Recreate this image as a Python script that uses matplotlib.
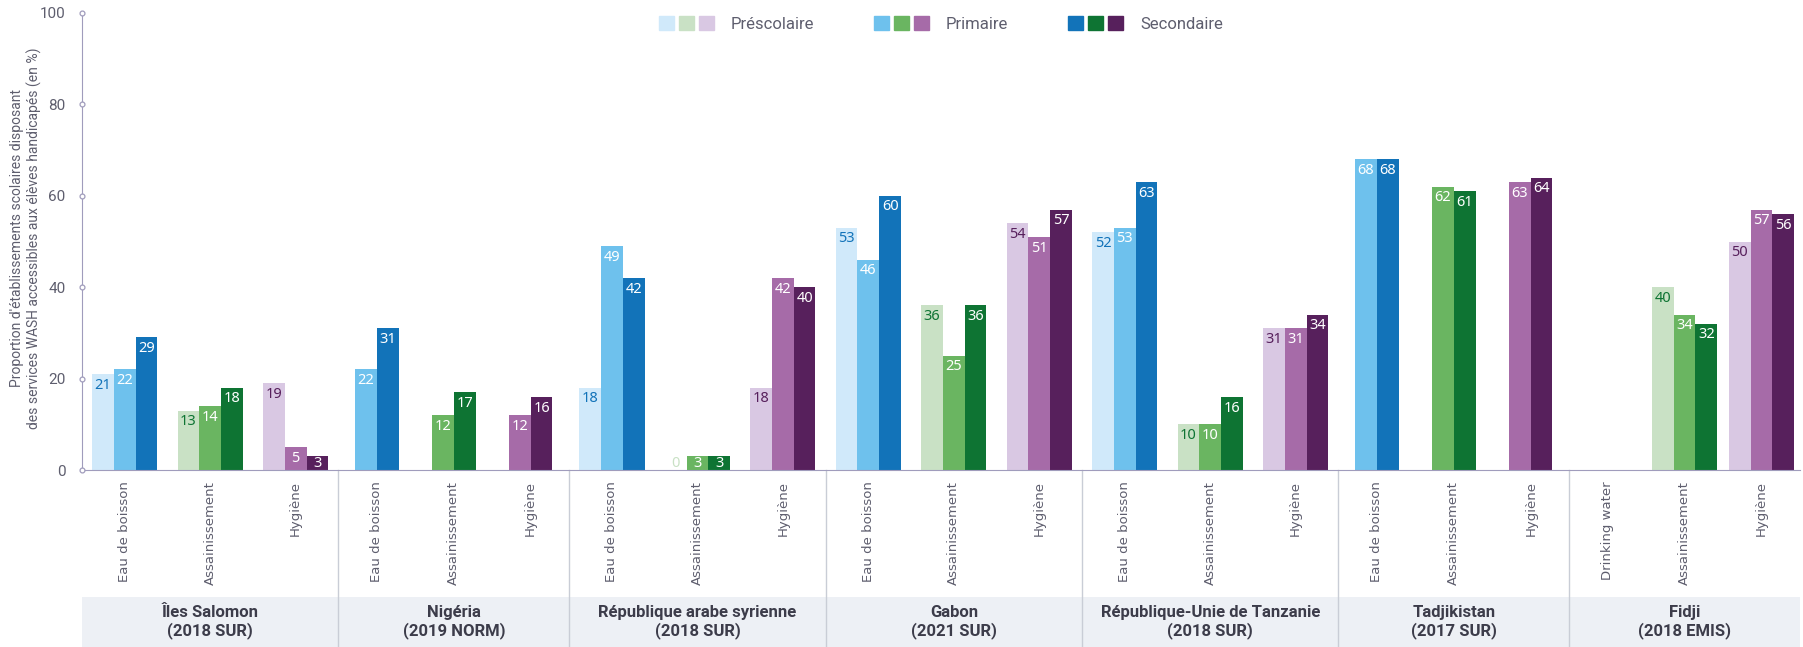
import numpy as np
import matplotlib
matplotlib.use("Agg")
import matplotlib.pyplot as plt
from matplotlib.patches import Rectangle
from matplotlib.legend_handler import HandlerTuple

plt.rcParams['font.family'] = ['Roboto', 'DejaVu Sans']

countries = ["Îles Salomon\n(2018 SUR)", "Nigéria\n(2019 NORM)",
             "République arabe syrienne\n(2018 SUR)", "Gabon\n(2021 SUR)",
             "République-Unie de Tanzanie\n(2018 SUR)", "Tadjikistan\n(2017 SUR)",
             "Fidji\n(2018 EMIS)"]
services = ["Eau de boisson", "Assainissement", "Hygiène"]
water_labels = ["Eau de boisson"] * 6 + ["Drinking water"]
levels = ["Préscolaire", "Primaire", "Secondaire"]

nan = np.nan
# one value per country x service (water, sanitation, hygiene)
prescolaire = [21, 13, 19,  nan, nan, nan,  18, 0, 18,  53, 36, 54,
               52, 10, 31,  nan, nan, nan,  nan, 40, 50]
primaire = [22, 14, 5,  22, 12, 12,  49, 3, 42,  46, 25, 51,
            53, 10, 31,  68, 62, 63,  nan, 34, 57]
secondaire = [29, 18, 3,  31, 17, 16,  42, 3, 40,  60, 36, 57,
              63, 16, 34,  68, 61, 64,  nan, 32, 56]

# colours: service -> (pre, prim, sec)
colors = [["#d0e9fa", "#6ec1ed", "#1273b9"],
          ["#c9e1c5", "#6ab561", "#0e7433"],
          ["#d9c8e3", "#a66ba8", "#57205c"]]
dark = ["#1273b9", "#0e7433", "#57205c"]

axis_col = "#a09cbc"
text_col = "#5e5e6e"

fig = plt.figure(figsize=(18.03, 6.47), dpi=100)
ax = fig.add_axes([82 / 1803, 1 - 470 / 647, 1718 / 1803, 457 / 647])

vals = np.array([prescolaire, primaire, secondaire], dtype=float)  # 3 x 21
w = 0.363

# country widths depend a bit on how many bars they hold
spans = []
for c in range(len(countries)):
    n = np.sum(~np.isnan(vals[:, c * 3:c * 3 + 3]))
    spans.append(3 + n / 7)
starts = np.concatenate([[0], np.cumsum(spans)])
total = starts[-1]

for c in range(len(countries)):
    for s in range(3):
        idx = c * 3 + s
        center = starts[c] + (s + 0.5) * spans[c] / 3
        present = [l for l in range(3) if not np.isnan(vals[l, idx])]
        k = len(present)
        for i, l in enumerate(present):
            v = vals[l, idx]
            x = center + (i - (k - 1) / 2) * w
            ax.bar(x, v, width=w, color=colors[s][l], zorder=2, linewidth=0)
            if l == 0:
                tc = colors[s][0] if v == 0 else dark[s]
            else:
                tc = "white"
            ax.text(x, max(v - 0.8, 3.1), f"{v:.0f}", ha='center', va='top',
                    fontsize=10.5, fontweight='bold', color=tc, zorder=3,
                    family=['Noto Sans', 'DejaVu Sans'])
        lab = water_labels[c] if s == 0 else services[s]
        ax.text(center, -0.024, lab, transform=ax.get_xaxis_transform(),
                rotation=90, ha='center', va='top', fontsize=9.5,
                color=text_col, family=['DejaVu Sans'])

# country band and separators
trans = ax.get_xaxis_transform()
ax.add_patch(Rectangle((0, -0.40), total, 0.122, transform=trans,
                       facecolor="#edf0f5", edgecolor='none', clip_on=False, zorder=0))
for b in starts[1:-1]:
    ax.plot([b, b], [0, -0.40], transform=trans, color="#c9cdd6", lw=1,
            clip_on=False, zorder=1)
for c in range(len(countries)):
    ax.text(starts[c] + spans[c] / 2, -0.333, countries[c], transform=trans,
            ha='center', va='center', fontsize=12, fontweight='bold',
            color="#3c3c4a", linespacing=1.2)

ax.set_xlim(0, total)
ax.set_ylim(0, 100)
ax.set_xticks([])
ax.set_yticks(np.arange(0, 101, 20))
ax.tick_params(axis='y', length=0, pad=12, labelsize=11, labelcolor=text_col)
for side in ['top', 'right']:
    ax.spines[side].set_visible(False)
ax.spines['left'].set_color(axis_col)
ax.spines['bottom'].set_color(axis_col)
ax.plot([0] * 6, np.arange(0, 101, 20), 'o', ms=3.5, mfc='white', mec=axis_col,
        mew=0.9, clip_on=False, zorder=5)

fig.text(26 / 1803, 1 - 238 / 647,
         "Proportion d'établissements scolaires disposant\n"
         "des services WASH accessibles aux élèves handicapés (en %)",
         rotation=90, ha='center', va='center', fontsize=10, color=text_col,
         linespacing=1.15)

handles = []
for l in range(3):
    handles.append(tuple(Rectangle((0, 0), 1, 1, color=colors[s][l]) for s in range(3)))
ax.legend(handles, levels, handler_map={tuple: HandlerTuple(ndivide=None, pad=0.3)},
          ncol=3, loc='upper center', bbox_to_anchor=(0.5, 1.012), frameon=False,
          fontsize=12, labelcolor=text_col, handlelength=3.3, handleheight=0.9,
          handletextpad=1.0, columnspacing=3.6, borderaxespad=0.1)

fig.savefig("out.png", dpi=100)
